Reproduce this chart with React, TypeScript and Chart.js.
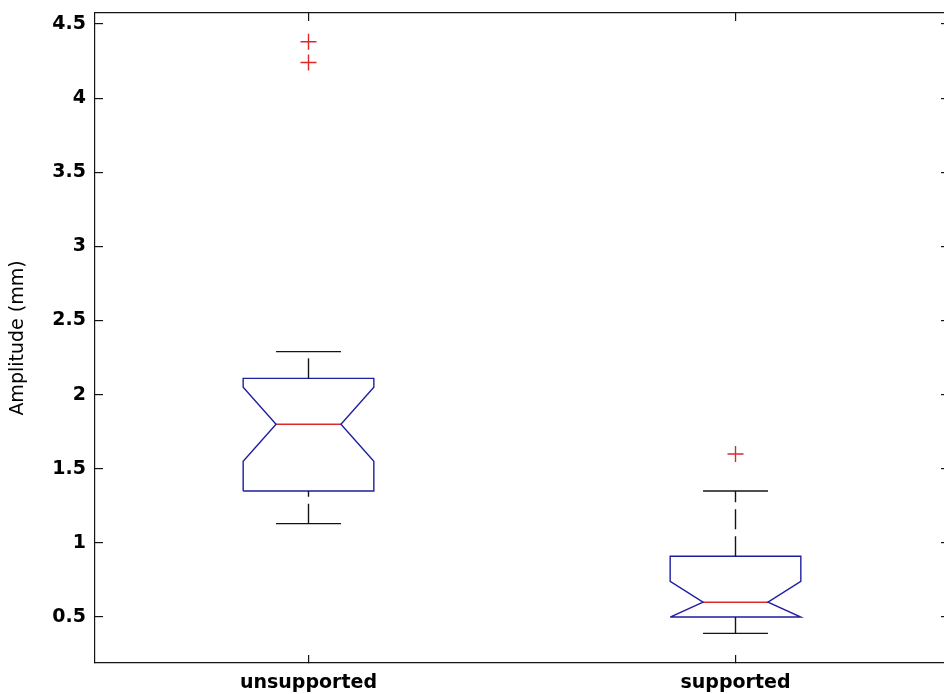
import React, { useEffect, useRef } from 'react';
import { Chart, registerables } from 'chart.js';

Chart.register(...registerables);

// ---- data ----
const categories = ['unsupported', 'supported'];
const positions = [1, 2];
const lowerWhisker = [1.13, 0.39];
const lowerQuartile = [1.35, 0.5];
const notchLower = [1.55, 0.5];
const medians = [1.8, 0.6];
const notchUpper = [2.05, 0.74];
const upperQuartile = [2.11, 0.91];
const upperWhisker = [2.29, 1.35];
const outliers = [[4.38, 4.24], [1.6]];
const yTickValues = [0.5, 1, 1.5, 2, 2.5, 3, 3.5, 4, 4.5];
const xRange = [0.5, 2.5];
const yRange = [0.19, 4.574];

// ---- styling ----
const CANVAS_W = 1000;
const CANVAS_H = 694;
const PLOT_RIGHT = 949;
const BOX_HALF = 0.153;
const NOTCH_HALF = 0.076;
const BLUE = 'rgb(30,30,160)';
const RED = 'rgb(220,40,40)';
const BLACK = 'rgb(20,20,20)';
const FONT = 'DejaVu Sans';
const LW = 1.4;
const DASH = [20, 7];

function buildDatasets() {
  const ds: any[] = [];
  const line = (pts: { x: number; y: number }[], color: string, dash: number[] = []) => ({
    data: pts,
    showLine: true,
    borderColor: color,
    backgroundColor: color,
    borderWidth: LW,
    borderDash: dash,
    pointRadius: 0,
    pointHoverRadius: 0,
    fill: false,
    tension: 0,
  });
  categories.forEach((_, i) => {
    const x = positions[i];
    const q1 = lowerQuartile[i];
    const q3 = upperQuartile[i];
    const nl = notchLower[i];
    const nu = notchUpper[i];
    const md = medians[i];
    // whiskers (dashed, drawn from lower end to upper end)
    ds.push(line([{ x, y: q3 }, { x, y: upperWhisker[i] }], BLACK, DASH));
    ds.push(line([{ x, y: lowerWhisker[i] }, { x, y: q1 }], BLACK, DASH));
    // whisker caps
    ds.push(line([{ x: x - NOTCH_HALF, y: upperWhisker[i] }, { x: x + NOTCH_HALF, y: upperWhisker[i] }], BLACK));
    ds.push(line([{ x: x - NOTCH_HALF, y: lowerWhisker[i] }, { x: x + NOTCH_HALF, y: lowerWhisker[i] }], BLACK));
    // notched box
    ds.push(
      line(
        [
          { x: x - BOX_HALF, y: q1 },
          { x: x - BOX_HALF, y: nl },
          { x: x - NOTCH_HALF, y: md },
          { x: x - BOX_HALF, y: nu },
          { x: x - BOX_HALF, y: q3 },
          { x: x + BOX_HALF, y: q3 },
          { x: x + BOX_HALF, y: nu },
          { x: x + NOTCH_HALF, y: md },
          { x: x + BOX_HALF, y: nl },
          { x: x + BOX_HALF, y: q1 },
          { x: x - BOX_HALF, y: q1 },
        ],
        BLUE
      )
    );
    // median
    ds.push(line([{ x: x - NOTCH_HALF, y: md }, { x: x + NOTCH_HALF, y: md }], RED));
    // outliers
    ds.push({
      data: outliers[i].map((y) => ({ x, y })),
      showLine: false,
      pointStyle: 'cross',
      pointRadius: 8,
      pointHoverRadius: 8,
      borderColor: RED,
      backgroundColor: RED,
      borderWidth: LW,
      pointBorderWidth: LW,
    });
  });
  return ds;
}

function zeroPad(s: any) {
  s.paddingTop = 0;
  s.paddingBottom = 0;
  s.paddingLeft = 0;
  s.paddingRight = 0;
}

export default function App() {
  const ref = useRef<HTMLCanvasElement | null>(null);

  useEffect(() => {
    if (!ref.current) return;
    const tickFont = { family: FONT, size: 19, weight: 'bold' as const };
    const xTicks = (s: any) => {
      s.ticks = positions.map((v) => ({ value: v }));
    };
    const yTicks = (s: any) => {
      s.ticks = yTickValues.map((v) => ({ value: v }));
    };
    const grid = {
      drawOnChartArea: false,
      drawTicks: true,
      tickLength: -8,
      color: BLACK,
      tickColor: BLACK,
      lineWidth: 1.2,
    };
    const border = { display: true, color: BLACK, width: 1.2 };
    const chart = new Chart(ref.current, {
      type: 'scatter',
      data: { datasets: buildDatasets() },
      options: {
        animation: false,
        responsive: false,
        maintainAspectRatio: false,
        devicePixelRatio: 1,
        layout: { padding: 0 },
        events: [],
        plugins: { legend: { display: false }, tooltip: { enabled: false } },
        scales: {
          x: {
            type: 'linear',
            position: 'bottom',
            min: xRange[0],
            max: xRange[1],
            bounds: 'data',
            afterBuildTicks: xTicks,
            afterFit: (s: any) => {
              s.height = 31;
              zeroPad(s);
            },
            ticks: {
              callback: (v: any) => {
                const k = positions.indexOf(Number(v));
                return k >= 0 ? categories[k] : '';
              },
              font: tickFont,
              color: '#000',
              padding: 17,
              maxRotation: 0,
              minRotation: 0,
              autoSkip: false,
            },
            grid,
            border,
          },
          x2: {
            type: 'linear',
            position: 'top',
            min: xRange[0],
            max: xRange[1],
            bounds: 'data',
            afterBuildTicks: xTicks,
            afterFit: (s: any) => {
              s.height = 13;
              zeroPad(s);
            },
            ticks: { display: false },
            grid,
            border,
          },
          y: {
            type: 'linear',
            position: 'left',
            min: yRange[0],
            max: yRange[1],
            bounds: 'data',
            afterBuildTicks: yTicks,
            afterFit: (s: any) => {
              s.width = 95;
              zeroPad(s);
            },
            ticks: {
              callback: (v: any) => String(v),
              font: tickFont,
              color: '#000',
              padding: 17,
              autoSkip: false,
            },
            title: {
              display: true,
              text: 'Amplitude (mm)',
              font: { family: FONT, size: 19, weight: 'normal' as const },
              color: '#000',
              padding: { top: 7, bottom: 0 },
            },
            grid,
            border,
          },
          y2: {
            type: 'linear',
            position: 'right',
            min: yRange[0],
            max: yRange[1],
            bounds: 'data',
            afterBuildTicks: yTicks,
            afterFit: (s: any) => {
              s.width = CANVAS_W - PLOT_RIGHT;
              zeroPad(s);
            },
            ticks: { display: false },
            grid,
            border: { display: false },
          },
        },
      } as any,
    });
    return () => chart.destroy();
  }, []);

  return (
    <div
      style={{
        position: 'fixed',
        left: 0,
        top: 0,
        width: 944,
        height: 694,
        overflow: 'hidden',
        background: '#fff',
      }}
    >
      <canvas
        ref={ref}
        width={CANVAS_W}
        height={CANVAS_H}
        style={{ width: CANVAS_W, height: CANVAS_H, display: 'block' }}
      />
    </div>
  );
}
